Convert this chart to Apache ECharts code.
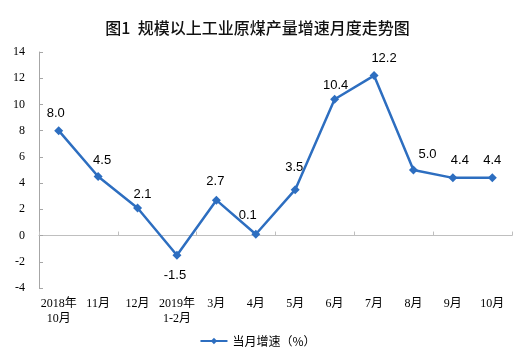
<!DOCTYPE html>
<html>
<head>
<meta charset="utf-8">
<script src="https://cdn.jsdelivr.net/npm/echarts@6/dist/echarts.min.js"></script>
<style>html,body{margin:0;padding:0;background:#fff}#c{width:515px;height:362px}</style>
</head>
<body>
<div id="c"></div>
<script>
var categories = ['2018年\n10月', '11月', '12月', '2019年\n1-2月', '3月', '4月', '5月', '6月', '7月', '8月', '9月', '10月'];
var growthValues = [8.0, 4.5, 2.1, -1.5, 2.7, 0.1, 3.5, 10.4, 12.2, 5.0, 4.4, 4.4];
var seriesName = '当月增速（%）';
var titleText = '图1  规模以上工业原煤产量增速月度走势图';

// label nudges (style only)
var labelOffsets = [[-3,0],[4,1],[5,3],[-2,3],[-1,-2],[-8,-2],[-1,-5],[1,3],[10,0],[14,1],[7,0],[0,0]];

var chart = echarts.init(document.getElementById('c'));
var data = growthValues.map(function (v, i) {
  return {
    value: v,
    label: {
      position: v < 0 ? 'bottom' : 'top',
      offset: labelOffsets[i]
    }
  };
});
chart.setOption({
  animation: false,
  title: {
    text: titleText,
    left: 'center',
    top: 15,
    textStyle: { fontSize: 16, fontWeight: 500, color: '#111', fontFamily: 'Noto Sans CJK SC' }
  },
  legend: {
    bottom: 10,
    left: 'center',
    itemWidth: 27,
    itemHeight: 8,
    itemGap: 10,
    textStyle: { fontSize: 12, color: '#000', fontFamily: 'Noto Sans CJK SC' },
    data: [seriesName]
  },
  grid: { left: 39, right: 3, top: 52, bottom: 74, containLabel: false },
  xAxis: [
    {
      type: 'category',
      data: categories,
      position: 'top',
      axisLine: { onZero: true, lineStyle: { color: '#bfbfbf', width: 1 } },
      axisTick: { show: true, inside: false, length: 4, lineStyle: { color: '#bfbfbf' } },
      axisLabel: { show: false },
      splitLine: { show: false }
    },
    {
      type: 'category',
      data: categories,
      position: 'bottom',
      axisLine: { show: false, onZero: false },
      axisTick: { show: false },
      axisLabel: {
        show: true, interval: 0, margin: 8, fontSize: 12, lineHeight: 15, color: '#000',
        fontFamily: '"Liberation Serif", "Noto Sans CJK SC"'
      },
      splitLine: { show: false }
    }
  ],
  yAxis: {
    type: 'value',
    min: -4, max: 14, interval: 2,
    axisLine: { show: true, lineStyle: { color: '#a6a6a6', width: 1 } },
    axisTick: { show: true, inside: true, length: 4, lineStyle: { color: '#a6a6a6' } },
    axisLabel: { margin: 14, fontSize: 12, color: '#000', fontFamily: '"Liberation Serif"' },
    splitLine: { show: false }
  },
  series: [{
    name: seriesName,
    type: 'line',
    xAxisIndex: 1,
    data: data,
    symbol: 'diamond',
    symbolSize: 9,
    lineStyle: { color: '#2d6ec0', width: 2.5 },
    itemStyle: { color: '#2d6ec0' },
    label: {
      show: true,
      distance: 6,
      fontSize: 13,
      color: '#000',
      fontFamily: '"Liberation Sans", Arial',
      formatter: function (p) { return p.value.toFixed(1); }
    }
  }]
});
</script>
</body>
</html>
